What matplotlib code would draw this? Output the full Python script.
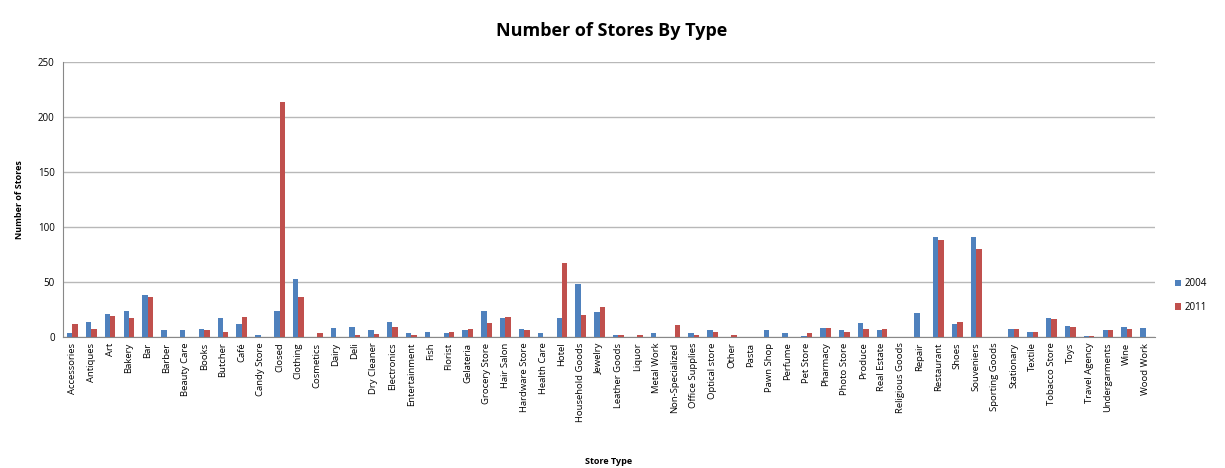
import numpy as np
import matplotlib.pyplot as plt

store_types = [
    "Accessories", "Antiques", "Art", "Bakery", "Bar", "Barber", "Beauty Care",
    "Books", "Butcher", "Café", "Candy Store", "Closed", "Clothing", "Cosmetics",
    "Dairy", "Deli", "Dry Cleaner", "Electronics", "Entertainment", "Fish",
    "Florist", "Gelateria", "Grocery Store", "Hair Salon", "Hardware Store",
    "Health Care", "Hotel", "Household Goods", "Jewelry", "Leather Goods",
    "Liquor", "Metal Work", "Non-Specialized", "Office Supplies", "Optical store",
    "Other", "Pasta", "Pawn Shop", "Perfume", "Pet Store", "Pharmacy",
    "Photo Store", "Produce", "Real Estate", "Religious Goods", "Repair",
    "Restaurant", "Shoes", "Souveniers", "Sporting Goods", "Stationary",
    "Textile", "Tobacco Store", "Toys", "Travel Agency", "Undergarments",
    "Wine", "Wood Work",
]

stores_2004 = [
    4, 14, 21, 24, 38, 6, 6, 7, 17, 12, 2, 24, 53, 0, 8, 9, 6, 14, 4, 5,
    4, 6, 24, 17, 7, 4, 17, 48, 23, 2, 0, 4, 0, 4, 6, 0, 0, 6, 4, 1, 8,
    6, 13, 6, 0, 22, 91, 12, 91, 0, 7, 5, 17, 10, 1, 6, 9, 8,
]

stores_2011 = [
    12, 7, 19, 17, 36, 0, 0, 6, 5, 18, 0, 214, 36, 4, 0, 2, 3, 9, 2, 0,
    5, 7, 13, 18, 6, 0, 67, 20, 27, 2, 2, 0, 11, 2, 5, 2, 0, 0, 0, 4, 8,
    5, 7, 7, 0, 0, 88, 14, 80, 0, 7, 5, 16, 9, 1, 6, 7, 0,
]

years = ["2004", "2011"]
colors = ["#4F81BD", "#C0504D"]

fig = plt.figure(figsize=(12.25, 4.68), dpi=100)
ax = fig.add_axes([63 / 1225, 1 - 337 / 468, (1155 - 63) / 1225, (337 - 62) / 468])

x = np.arange(len(store_types))
w = 1 / 3.5
ax.bar(x - w / 2, stores_2004, width=w, color=colors[0], label=years[0], zorder=3)
ax.bar(x + w / 2, stores_2011, width=w, color=colors[1], label=years[1], zorder=3)

ax.set_xlim(-0.5, len(store_types) - 0.5)
ax.set_ylim(0, 250)
ax.set_yticks(np.arange(0, 251, 50))
ax.yaxis.grid(True, color="#B8B8B8", linewidth=1.0, zorder=0)
ax.set_axisbelow(True)

ax.set_xticks(x)
ax.set_xticklabels(store_types, rotation=90, fontsize=6.8, family="Open Sans")
ax.tick_params(axis="x", length=0, pad=4)
ax.tick_params(axis="y", length=0, labelsize=7, pad=6)
for lbl in ax.get_yticklabels():
    lbl.set_family("Open Sans")

for side in ["top", "right"]:
    ax.spines[side].set_visible(False)
ax.spines["left"].set_color("#888888")
ax.spines["bottom"].set_color("#888888")

ax.set_ylabel("Number of Stores", fontsize=6.5, fontweight="bold", family="Open Sans", labelpad=10)
fig.text(0.5 * (63 + 1155) / 1225, 1 - 462 / 468, "Store Type", ha="center", va="center",
         fontsize=6.5, fontweight="bold", family="Open Sans")

fig.text(612 / 1225, 1 - 31 / 468, "Number of Stores By Type", ha="center", va="center",
         fontsize=13, fontweight="bold", family="Open Sans")

ax.legend(loc="center left", bbox_to_anchor=(1.01, 0.15), frameon=False,
          handlelength=0.7, handleheight=0.7, handletextpad=0.3, labelspacing=1.3,
          prop={"family": "Open Sans", "size": 7})

fig.savefig("out.png", dpi=100)
